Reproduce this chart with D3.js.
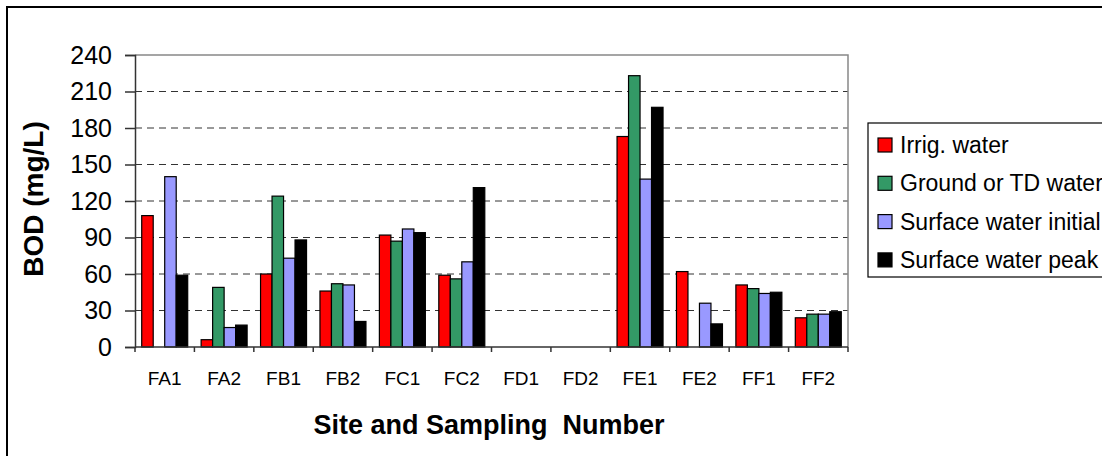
<!DOCTYPE html>
<html>
<head>
<meta charset="utf-8">
<script src="https://cdn.jsdelivr.net/npm/d3@7"></script>
<style>
    body { margin: 0; background: #fff; }
    text { font-family: Arial, "Liberation Sans", sans-serif; }
</style>
</head>
<body>
<svg></svg>
<script>
// data (BOD in mg/L), null = no bar
let sites = ['FA1', 'FA2', 'FB1', 'FB2', 'FC1', 'FC2', 'FD1', 'FD2', 'FE1', 'FE2', 'FF1', 'FF2']
let seriesNames = ['Irrig. water', 'Ground or TD water', 'Surface water initial', 'Surface water peak']
let seriesColors = ['#ff0000', '#339966', '#9999ff', '#000000']

let irrigWater = [108, 6, 60, 46, 92, 59, null, null, 173, 62, 51, 24]
let groundWater = [null, 49, 124, 52, 87, 56, null, null, 223, null, 48, 27]
let surfaceInitial = [140, 16, 73, 51, 97, 70, null, null, 138, 36, 44, 27]
let surfacePeak = [59, 18, 88, 21, 94, 131, null, null, 197, 19, 45, 29]

let yTicks = [0, 30, 60, 90, 120, 150, 180, 210, 240]

let allSeries = [irrigWater, groundWater, surfaceInitial, surfacePeak]

let svgWidth = 1102
let svgHeight = 456
let plot = { left: 135, top: 55, right: 848, bottom: 347 }

let svg = d3.select('svg')
    .attr('width', svgWidth)
    .attr('height', svgHeight)
    .style('background', '#fff')

// outer chart frame (runs off the right and bottom edge)
svg.append('rect')
    .attr('x', 7)
    .attr('y', 7)
    .attr('width', 1200)
    .attr('height', 500)
    .attr('fill', 'none')
    .attr('stroke', '#000')
    .attr('stroke-width', 2)

let x0 = d3.scaleBand()
    .domain(sites)
    .range([plot.left, plot.right])

let x1 = d3.scaleBand()
    .domain(d3.range(seriesNames.length))
    .range([x0.bandwidth() * 0.113, x0.bandwidth() * 0.887])

let y = d3.scaleLinear()
    .domain([0, 240])
    .range([plot.bottom, plot.top])

// gridlines
svg.selectAll('.grid')
    .data(yTicks.filter(d => d > 0 && d < 240))
    .enter()
    .append('line')
    .attr('x1', plot.left)
    .attr('x2', plot.right)
    .attr('y1', d => y(d))
    .attr('y2', d => y(d))
    .attr('stroke', '#333')
    .attr('stroke-dasharray', '7,5')

// grey plot border on top and right
svg.append('path')
    .attr('d', `M${plot.left},${y(240)}H${plot.right}V${plot.bottom}`)
    .attr('fill', 'none')
    .attr('stroke', '#888')
    .attr('stroke-width', 1.5)

// bars
let barData = []
sites.forEach((site, i) => {
    allSeries.forEach((s, k) => {
        if (s[i] != null) barData.push({ site: site, k: k, value: s[i] })
    })
})

svg.selectAll('.bar')
    .data(barData)
    .enter()
    .append('rect')
    .attr('x', d => x0(d.site) + x1(d.k))
    .attr('y', d => y(d.value))
    .attr('width', x1.bandwidth())
    .attr('height', d => y(0) - y(d.value))
    .attr('fill', d => seriesColors[d.k])
    .attr('stroke', '#000')
    .attr('stroke-width', 1.2)

// y axis
let yAxis = svg.append('g')
    .attr('transform', `translate(${plot.left},0)`)
    .call(d3.axisLeft(y).tickValues(yTicks).tickSize(10).tickPadding(13))
yAxis.select('.domain').attr('stroke', '#333').attr('stroke-width', 1.5)
yAxis.selectAll('line').attr('stroke', '#333').attr('stroke-width', 1.5)
yAxis.selectAll('text')
    .attr('font-size', '25px')
    .attr('fill', '#000')
    .attr('font-family', 'Arial, "Liberation Sans", sans-serif')

// x axis, ticks between the categories
let xAxis = svg.append('g')
    .attr('transform', `translate(0,${plot.bottom})`)
xAxis.append('line')
    .attr('x1', plot.left)
    .attr('x2', plot.right)
    .attr('stroke', '#333')
    .attr('stroke-width', 1.5)
xAxis.selectAll('.tick')
    .data(sites.map(d => x0(d)).concat([plot.right]))
    .enter()
    .append('line')
    .attr('x1', d => d)
    .attr('x2', d => d)
    .attr('y1', 0)
    .attr('y2', 5)
    .attr('stroke', '#333')
    .attr('stroke-width', 1.5)
xAxis.selectAll('.label')
    .data(sites)
    .enter()
    .append('text')
    .attr('x', d => x0(d) + x0.bandwidth() / 2)
    .attr('y', 38)
    .attr('text-anchor', 'middle')
    .attr('font-size', '19px')
    .text(d => d)

// axis titles
svg.append('text')
    .attr('x', 489)
    .attr('y', 434)
    .attr('text-anchor', 'middle')
    .attr('font-size', '27px')
    .attr('font-weight', 'bold')
    .text('Site and Sampling  Number')
    .style('white-space', 'pre')

svg.append('text')
    .attr('transform', 'translate(43,199) rotate(-90)')
    .attr('text-anchor', 'middle')
    .attr('font-size', '28px')
    .attr('font-weight', 'bold')
    .text('BOD (mg/L)')

// legend
let legend = svg.append('g')
    .attr('transform', 'translate(868,123)')

legend.append('rect')
    .attr('width', 300)
    .attr('height', 154)
    .attr('fill', '#fff')
    .attr('stroke', '#000')
    .attr('stroke-width', 1.2)

let item = legend.selectAll('.item')
    .data(seriesNames)
    .enter()
    .append('g')
    .attr('transform', (d, i) => `translate(10,${22 + i * 38.3})`)

item.append('rect')
    .attr('x', 0)
    .attr('y', -7)
    .attr('width', 14)
    .attr('height', 14)
    .attr('fill', (d, i) => seriesColors[i])
    .attr('stroke', '#000')
    .attr('stroke-width', 1.2)

item.append('text')
    .attr('x', 22)
    .attr('dy', '0.35em')
    .attr('font-size', '23px')
    .text(d => d)
</script>
</body>
</html>
